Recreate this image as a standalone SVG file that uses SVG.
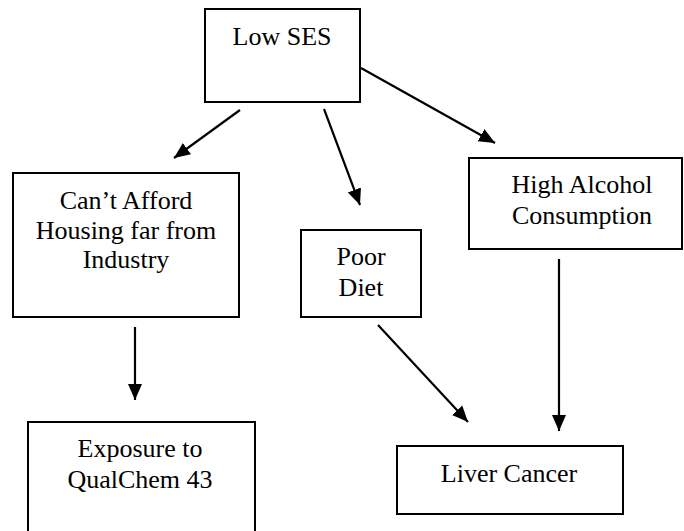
<svg xmlns="http://www.w3.org/2000/svg" width="684" height="531" viewBox="0 0 684 531">
<style>
.box{fill:#fff;stroke:#000;stroke-width:2}
.t{font-family:'Liberation Serif','Times New Roman',serif;font-size:26px;fill:#000;text-anchor:middle}
.c line{stroke:#000;stroke-width:2.2;marker-end:url(#ah)}
</style>
<defs>
<marker id="ah" markerUnits="userSpaceOnUse" markerWidth="18" markerHeight="16" refX="16" refY="7" orient="auto" viewBox="0 0 18 14">
<path d="M0,0 L16,7 L0,14 Z" fill="#000"/>
</marker>
</defs>
<rect width="684" height="531" fill="#fff"/>
<g id="low-ses"><rect class="box" x="205" y="9" width="155" height="93"/><text class="t" x="282" y="45">Low SES</text></g>
<g id="housing"><rect class="box" x="13" y="173" width="226" height="144"/><text class="t" x="126" y="209">Can&#8217;t Afford</text><text class="t" x="126" y="239">Housing far from</text><text class="t" x="126" y="268">Industry</text></g>
<g id="poor-diet"><rect class="box" x="301" y="230" width="120" height="87"/><text class="t" x="361" y="265">Poor</text><text class="t" x="361" y="296">Diet</text></g>
<g id="alcohol"><rect class="box" x="469" y="158" width="213" height="91"/><text class="t" x="582" y="193">High Alcohol</text><text class="t" x="582" y="224">Consumption</text></g>
<g id="exposure"><rect class="box" x="28" y="422" width="227" height="120"/><text class="t" x="140" y="457">Exposure to</text><text class="t" x="140" y="488">QualChem 43</text></g>
<g id="liver"><rect class="box" x="397" y="446" width="226" height="68"/><text class="t" x="509" y="482">Liver Cancer</text></g>
<g id="connectors" class="c">
<line x1="240" y1="110" x2="174" y2="158"/>
<line x1="324" y1="109" x2="360" y2="205"/>
<line x1="361" y1="68" x2="495" y2="143"/>
<line x1="135" y1="327" x2="135" y2="400"/>
<line x1="378" y1="325" x2="468" y2="422"/>
<line x1="559" y1="259" x2="559" y2="431"/>
</g>
</svg>
